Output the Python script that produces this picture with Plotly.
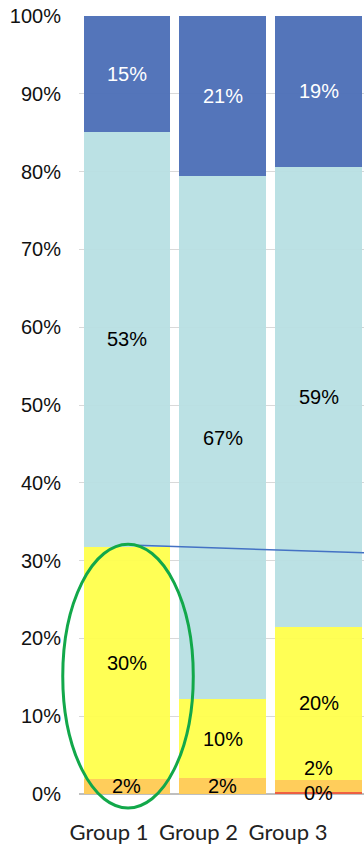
import plotly.graph_objects as go

categories = ["Group 1", "Group 2", "Group 3"]
red = [0.0, 0.0, 0.25]
orange = [1.97, 2.05, 1.55]
yellow = [29.8, 10.15, 19.7]
teal = [53.3, 67.2, 59.1]
blue = [14.93, 20.6, 19.4]

series = [
    ("red", red, "#EE5A3A", "black"),
    ("orange", orange, "#FFCC55", "black"),
    ("yellow", yellow, "#FFFF4F", "black"),
    ("teal", teal, "#B9E0E3", "black"),
    ("blue", blue, "#4E70B8", "white"),
]

fig = go.Figure()
for name, vals, col, _ in series:
    fig.add_trace(go.Bar(x=categories, y=vals, name=name,
                         marker=dict(color=col, line=dict(width=0)),
                         opacity=0.96, showlegend=False))

# category label axis (labels sit offset from the bars in the original)
fig.add_trace(go.Scatter(x=categories, y=[0, 0, 0], xaxis="x2", mode="markers",
                         marker=dict(opacity=0), showlegend=False, hoverinfo="skip"))

# data labels
cum = [0.0] * len(categories)
label_shift = {("orange", 2): 18}
for name, vals, col, tcol in series:
    for i, v in enumerate(vals):
        mid = cum[i] + v / 2
        cum[i] += v
        if name == "red" and v == 0:
            continue
        fig.add_annotation(x=categories[i], y=mid, text=f"{round(v)}%",
                           showarrow=False, yshift=label_shift.get((name, i), 0),
                           font=dict(family="Liberation Sans, Arial", size=20, color=tcol))

# connector line and highlight ellipse
fig.add_shape(type="line", xref="x", yref="y", x0=0.03, y0=32.0, x1=2.47, y1=31.0,
              line=dict(color="#4472C4", width=1.5))
fig.add_shape(type="circle", xref="paper", yref="paper",
              x0=-0.057, x1=0.401, y0=-0.018, y1=0.321,
              line=dict(color="#12A84A", width=3))

fig.update_layout(
    barmode="stack", bargap=0.094,
    width=364, height=845,
    margin=dict(l=79, r=0, t=16, b=51),
    plot_bgcolor="white", paper_bgcolor="white",
    xaxis=dict(range=[-0.5, 2.47], showgrid=False, showline=False, ticks="",
               showticklabels=False),
    xaxis2=dict(overlaying="x", anchor="y", side="bottom", range=[-0.335, 2.849],
                showgrid=False, showline=False, ticks="", zeroline=False,
                tickfont=dict(family="Lato", size=22, color="#222"),
                ticklabelstandoff=23),
    yaxis=dict(range=[0, 100], tickvals=list(range(0, 101, 10)),
               ticktext=[f"{t}%" for t in range(0, 101, 10)],
               showgrid=True, gridcolor="#D9D9D9", gridwidth=1,
               zeroline=True, zerolinecolor="#BFBFBF", zerolinewidth=1.5,
               tickfont=dict(family="Liberation Sans, Arial", size=20, color="#111"),
               ticklabelstandoff=17, ticks=""),
)

fig.write_html("out.html")
